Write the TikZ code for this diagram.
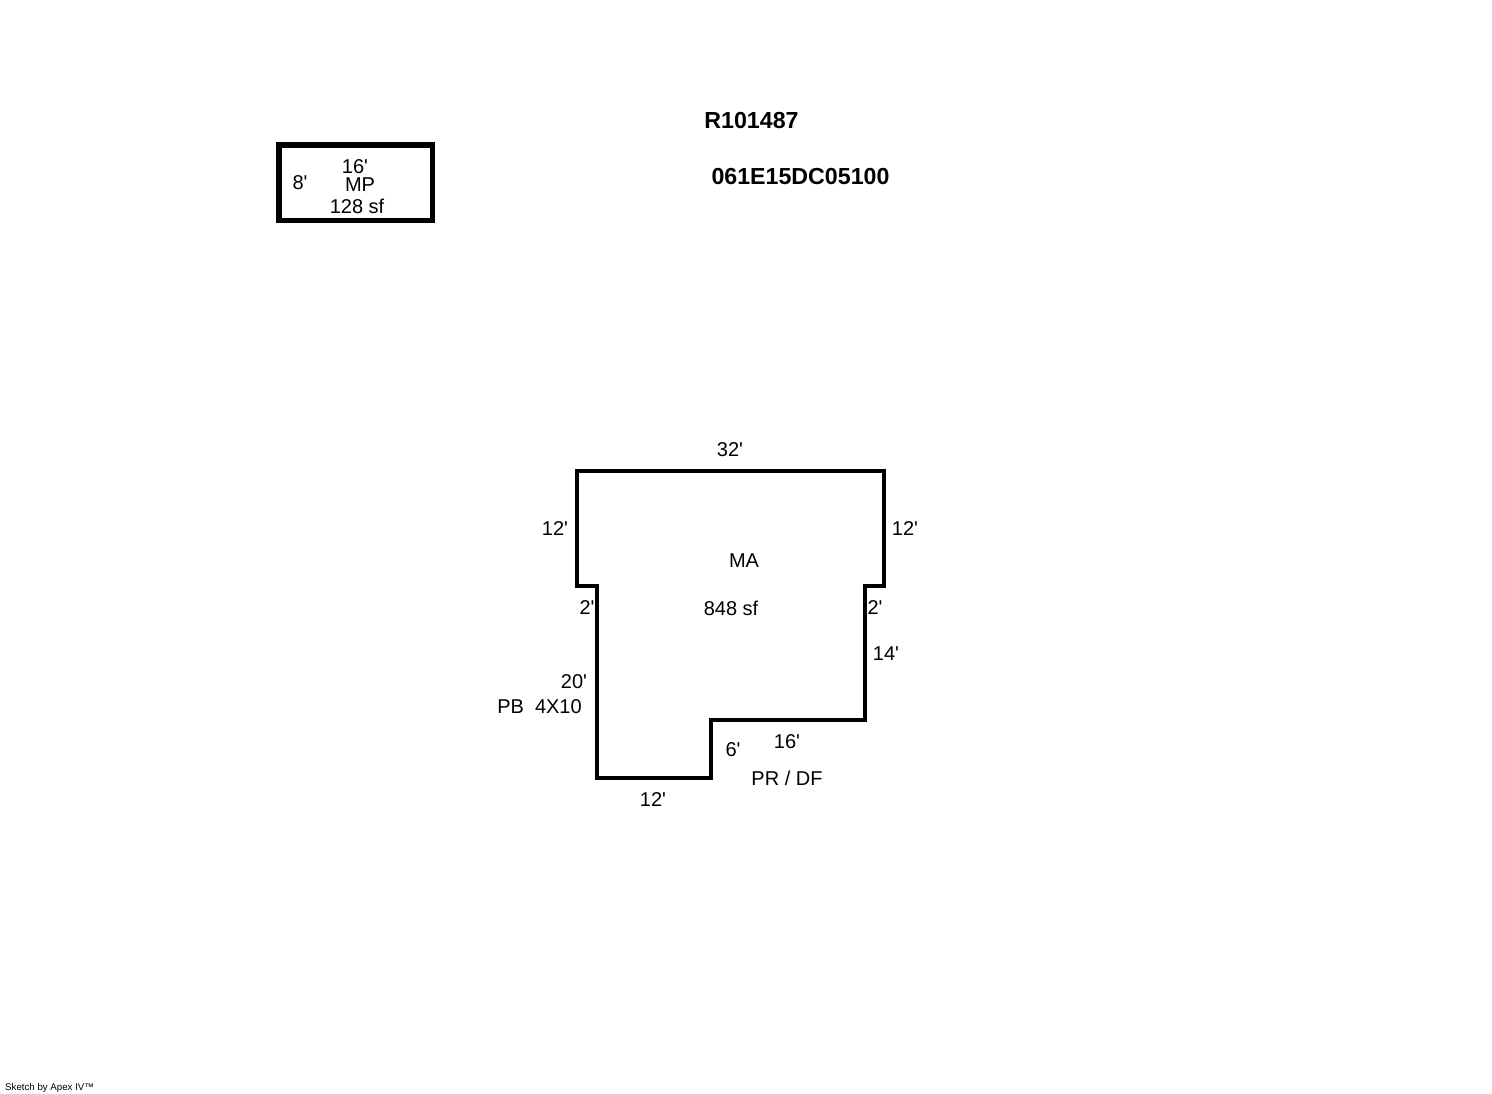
\documentclass[tikz,border=0pt]{standalone}
\usepackage{fontspec}
\newfontfamily\sketchfont{Liberation Sans}
\begin{document}
\begin{tikzpicture}[x=1pt,y=-1pt,
 wall/.style={draw=black,line width=4pt,line join=miter},
 thick wall/.style={draw=black,line width=5.5pt,line join=miter},
 lab/.style={inner sep=0pt,font=\sketchfont\fontsize{20}{22}\selectfont},
 head/.style={inner sep=0pt,font=\sketchfont\fontsize{23.2}{26}\selectfont\bfseries},
 tiny/.style={inner sep=0pt,anchor=west,font=\sketchfont\fontsize{9.7}{11}\selectfont}]
\useasboundingbox (0,0) rectangle (1492,1094);
\draw[thick wall] (279,145) rectangle (432.5,220.5);
\draw[wall] (577,471) -- (884,471) -- (884,586) -- (864.5,586) -- (864.5,720) -- (711.3,720) -- (711.3,778) -- (596.5,778) -- (596.5,586) -- (577,586) -- cycle;
\node[head] (id) at (751.5,121) {R101487};
\node[head] (parcel) at (800.5,177) {061E15DC05100};
\node[lab] (a) at (355,167) {16'};
\node[lab] (b) at (300,183) {8'};
\node[lab] (c) at (360,185) {MP};
\node[lab] (d) at (357,206) {128 sf};
\node[lab] (e) at (730,450) {32'};
\node[lab] (f) at (555,529) {12'};
\node[lab] (g) at (905,529) {12'};
\node[lab] (h) at (744,561) {MA};
\node[lab] (i) at (731,608) {848 sf};
\node[lab] (j) at (587,608) {2'};
\node[lab] (k) at (875,608) {2'};
\node[lab] (l) at (886,654) {14'};
\node[lab] (m) at (574,682) {20'};
\node[lab] (n) at (539.5,707) {PB\ \ 4X10};
\node[lab] (o) at (787,742) {16'};
\node[lab] (p) at (733,750) {6'};
\node[lab] (q) at (787,778.5) {PR / DF};
\node[lab] (r) at (653,800) {12'};
\node[tiny] (s) at (5,1088) {Sketch by Apex IV™};
\end{tikzpicture}
\end{document}
